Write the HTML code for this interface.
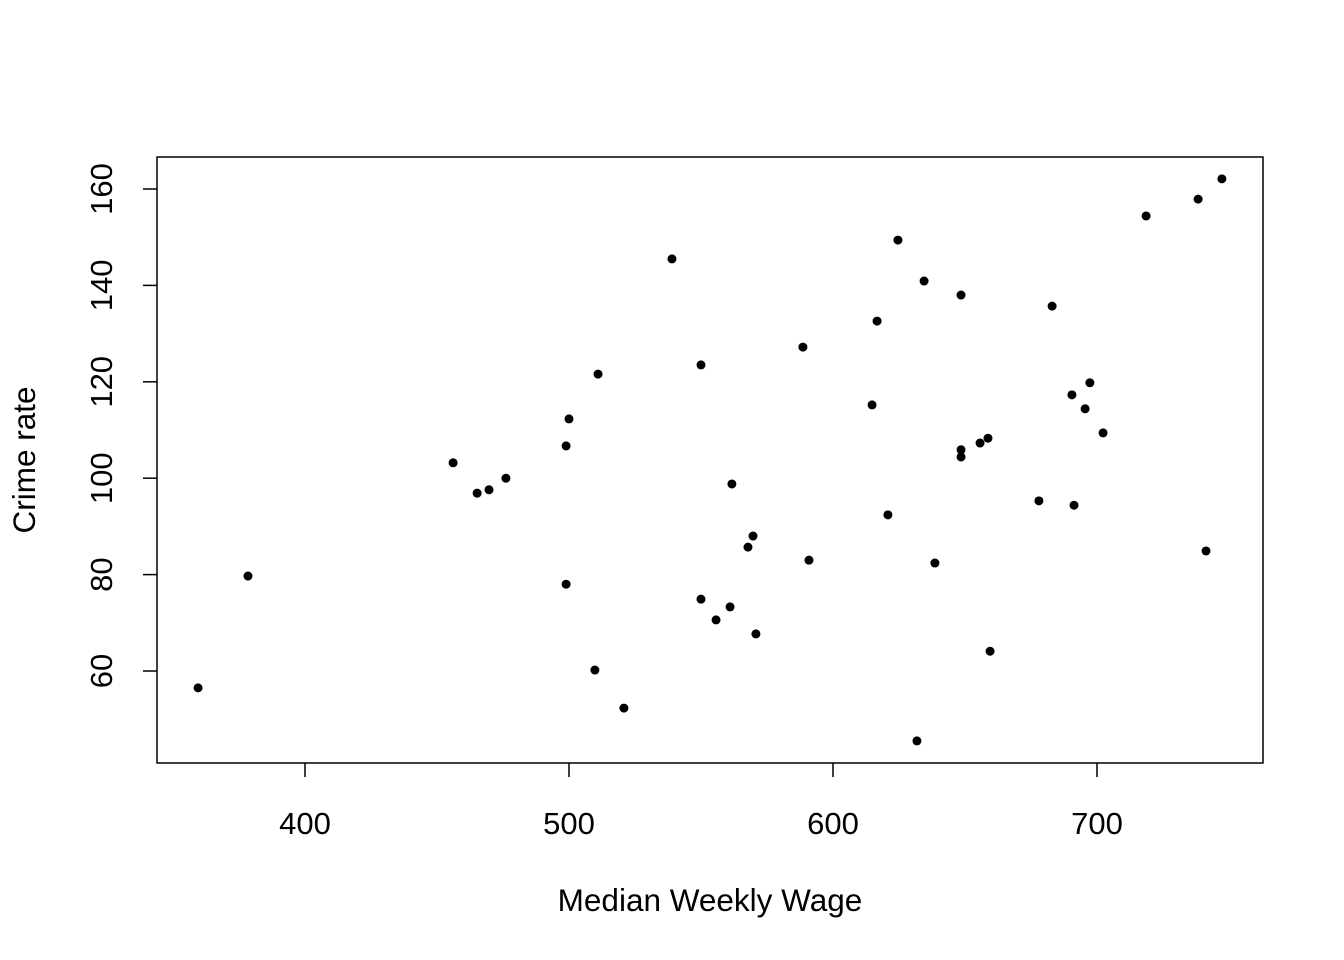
<!DOCTYPE html>
<html><head><meta charset="utf-8"><style>body{margin:0;background:#fff}svg{display:block}text{font-family:"Liberation Sans",Arial,sans-serif;fill:#000}</style></head>
<body>
<svg id="chart" width="1344" height="960">
<rect x="157" y="157" width="1106" height="606" fill="none" stroke="#000" stroke-width="1.5"/>
<g id="xaxis"></g>
<g id="yaxis"></g>
<g id="pts"></g>
<text x="710" y="911" font-size="31.5" text-anchor="middle">Median Weekly Wage</text>
<text x="35" y="460" font-size="31.5" text-anchor="middle" transform="rotate(-90 35 460)">Crime rate</text>
</svg>
<script>
const xTicks=[400,500,600,700];
const yTicks=[60,80,100,120,140,160];
const wage=[359.5,378.4,456.1,465.2,469.7,476.1,498.9,500,511,498.9,509.8,520.8,539,550,550,555.7,561,561.7,567.8,569.7,570.8,588.6,590.9,614.8,616.7,620.8,624.6,631.8,634.5,638.6,648.5,648.5,648.5,655.7,658.7,659.5,678,683,690.5,691.3,695.5,697.3,702.3,718.6,738.3,741.3,747.3];
const crime=[56.5,79.7,103.2,96.9,97.6,100.0,106.7,112.3,121.6,78.0,60.2,52.3,145.5,123.5,74.9,70.6,73.3,98.8,85.7,88.0,67.7,127.2,83.0,115.2,132.6,92.4,149.4,45.5,140.9,82.4,138.0,105.9,104.4,107.3,108.3,64.1,95.3,135.7,117.3,94.4,114.4,119.8,109.4,154.4,157.9,84.9,162.1];
const NS='http://www.w3.org/2000/svg';
function sx(v){return 305+(v-400)*2.64;}
function sy(v){return 189+(160-v)*4.82;}
function mk(t,a,p){const e=document.createElementNS(NS,t);for(const k in a)e.setAttribute(k,a[k]);p.appendChild(e);return e;}
const xa=document.getElementById('xaxis'),ya=document.getElementById('yaxis'),pg=document.getElementById('pts');
xTicks.forEach(v=>{const l=mk('line',{x1:sx(v),x2:sx(v),y1:763,y2:777,stroke:'#000','stroke-width':1.5},xa);


const t=mk('text',{x:sx(v),y:834,'font-size':31,'text-anchor':'middle'},xa);t.textContent=v;

});
yTicks.forEach(v=>{const l=mk('line',{x1:143,x2:157,y1:sy(v),y2:sy(v),stroke:'#000','stroke-width':1.5},ya);


const t=mk('text',{x:112,y:sy(v),'font-size':31,'text-anchor':'middle',transform:`rotate(-90 112 ${sy(v)})`},ya);t.textContent=v;

});
wage.forEach((w,i)=>{const c=mk('circle',{cx:sx(w),cy:sy(crime[i]),r:4.5,fill:'#000'},pg);

});
</script>
</body></html>
